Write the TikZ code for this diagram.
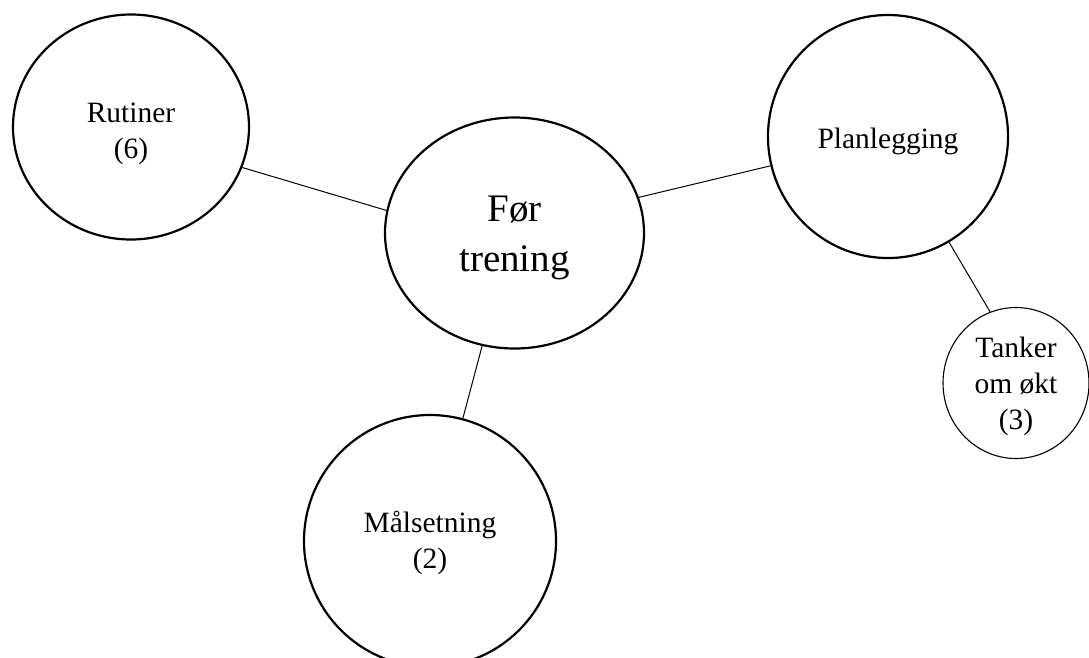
\documentclass[tikz,border=0pt]{standalone}
\usepackage{fontspec}
\setmainfont{Liberation Serif}
\usetikzlibrary{shapes.geometric}
\tikzset{
  bubble/.style={draw, ellipse, line width=2.2pt, inner sep=0pt},
  smallbubble/.style={bubble, line width=1.1pt},
  txt/.style={align=center, inner sep=0pt, font=\fontsize{29.5}{36}\selectfont},
  bigtxt/.style={txt, font=\fontsize{39}{50}\selectfont},
  link/.style={draw, line width=1pt}
}
\begin{document}
\begin{tikzpicture}[x=1pt,y=-1pt]
\useasboundingbox (0,0) rectangle (1089,657);
\clip (0,0) rectangle (1089,657);
\node[bubble, minimum width=236pt, minimum height=225pt,
  label={[txt, yshift=-7pt]center:Rutiner\\(6)}] (rut) at (131,127) {};
\node[bubble, minimum width=259pt, minimum height=231pt,
  label={[bigtxt, yshift=-5pt]center:Før\\trening}] (for) at (514.5,233) {};
\node[bubble, minimum width=240pt, minimum height=243pt,
  label={[txt, yshift=-5pt]center:Planlegging}] (plan) at (888,136.5) {};
\node[smallbubble, minimum width=146pt, minimum height=151pt,
  label={[txt, yshift=-3pt]center:Tanker\\om økt\\(3)}] (tank) at (1016,383) {};
\node[bubble, minimum width=252pt, minimum height=252pt,
  label={[txt, yshift=-2pt]center:Målsetning\\(2)}] (mal) at (430,541) {};
\draw[link] (rut.-20) -- (for.170);
\draw[link] (for.16) -- (plan.194);
\draw[link] (plan.-60) -- (tank.110);
\draw[link] (for.-106) -- (mal.75);
\end{tikzpicture}
\end{document}
